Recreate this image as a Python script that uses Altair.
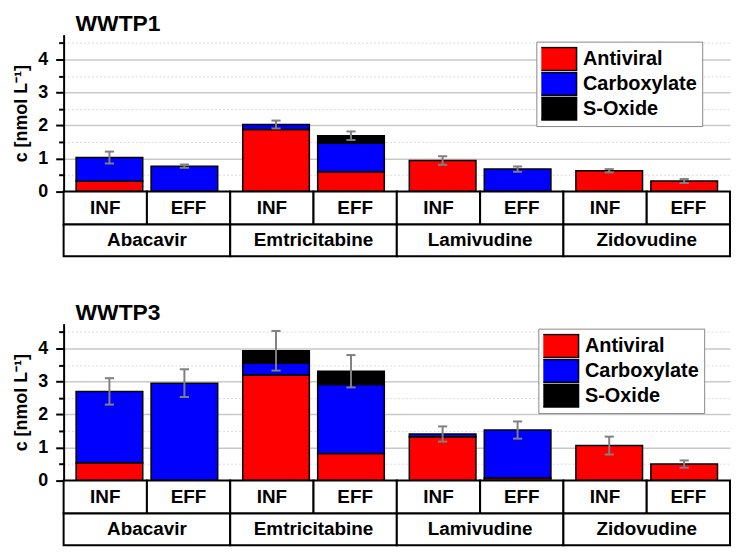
import altair as alt
import pandas as pd

FONT = "Liberation Sans"

drugs = ["Abacavir", "Emtricitabine", "Lamivudine", "Zidovudine"]
samples = ["INF", "EFF"]
components = ["Antiviral", "Carboxylate", "S-Oxide"]
colors = ["#ff0000", "#0000ff", "#000000"]

# WWTP1 (order: Abacavir INF, EFF, Emtricitabine INF, EFF, Lamivudine INF, EFF, Zidovudine INF, EFF)
w1_antiviral = [0.31, 0.00, 1.88, 0.60, 0.94, 0.00, 0.63, 0.32]
w1_carboxylate = [0.72, 0.77, 0.15, 0.87, 0.00, 0.68, 0.00, 0.00]
w1_soxide = [0.00, 0.00, 0.00, 0.22, 0.00, 0.00, 0.00, 0.00]
w1_sd = [0.18, 0.05, 0.12, 0.13, 0.13, 0.08, 0.05, 0.06]

# WWTP3
w3_antiviral = [0.54, 0.00, 3.20, 0.82, 1.33, 0.08, 1.06, 0.50]
w3_carboxylate = [2.16, 2.95, 0.35, 2.09, 0.08, 1.45, 0.00, 0.00]
w3_soxide = [0.00, 0.00, 0.38, 0.40, 0.00, 0.00, 0.00, 0.00]
w3_sd = [0.40, 0.42, 0.60, 0.49, 0.23, 0.26, 0.27, 0.11]

y_ticks = [0, 0.5, 1, 1.5, 2, 2.5, 3, 3.5, 4, 4.5]

# layout constants
Y_MAX = 4.75
ROW1 = -1.0
ROW2 = -1.955
CENTER_OFFSET = [0.55, 1.45]
BAR_HALF = 0.4
CAP_HALF = 0.055
W, H = 671, 223

major = "datum.value % 1 === 0"
yaxis = alt.Axis(
    values=y_ticks,
    format="~g",
    title="c [nmol L⁻¹]",
    titleFont=FONT, titleFontSize=18, titleFontWeight="bold", titleColor="black",
    titleX=-37, titleY=79, titleBaseline="alphabetic",
    labelExpr=f"{major} ? datum.label : ''",
    labelFont=FONT, labelFontSize=18, labelFontWeight="bold", labelColor="black",
    labelPadding=8,
    tickSize={"condition": {"test": major, "value": 8}, "value": 5},
    tickColor="black", tickWidth=2,
    domainColor="black", domainWidth=2,
    grid=True,
    gridColor={"condition": {"test": major, "value": "#c8c8c8"}, "value": "#dadada"},
    gridWidth={"condition": {"test": major, "value": 1.5}, "value": 1},
    gridDash={"condition": {"test": major, "value": [1, 0]}, "value": [2, 2]},
)


def panel(title, av, cb, so, sd, lx, ly):
    seg, err, caps = [], [], []
    for i in range(8):
        g, j = divmod(i, 2)
        c = 2 * g + CENTER_OFFSET[j]
        base = 0.0
        for comp, v in zip(components, (av[i], cb[i], so[i])):
            if v > 0:
                seg.append(dict(comp=comp, x=c - BAR_HALF, x2=c + BAR_HALF, y=base, y2=base + v))
                base += v
        lo, hi = base - sd[i], base + sd[i]
        err.append(dict(x=c, y=lo, y2=hi))
        caps.append(dict(x=c - CAP_HALF, x2=c + CAP_HALF, y=lo))
        caps.append(dict(x=c - CAP_HALF, x2=c + CAP_HALF, y=hi))
    cells = []
    for i in range(8):
        cells.append(dict(x=i, x2=i + 1, y=ROW1, y2=0, tx=i + 0.5, ty=ROW1 / 2, label=samples[i % 2]))
    for g in range(4):
        cells.append(dict(x=2 * g, x2=2 * g + 2, y=ROW2, y2=ROW1, tx=2 * g + 1, ty=(ROW1 + ROW2) / 2, label=drugs[g]))

    xs = alt.Scale(domain=[0, 8], nice=False, zero=False)
    ys = alt.Scale(domain=[ROW2, Y_MAX], nice=False, zero=False)

    bars = alt.Chart(pd.DataFrame(seg)).mark_bar(stroke="black", strokeWidth=1.5, opacity=1).encode(
        x=alt.X("x:Q", scale=xs, axis=None),
        x2="x2:Q",
        y=alt.Y("y:Q", scale=ys, axis=yaxis),
        y2="y2:Q",
        color=alt.Color(
            "comp:N",
            scale=alt.Scale(domain=components, range=colors),
            legend=alt.Legend(
                title=None, orient="none", legendX=lx, legendY=ly,
                symbolType="M-2,-1H2V1H-2Z", symbolSize=529,
                symbolStrokeColor="black", symbolStrokeWidth=1.5, symbolOpacity=1,
                labelFont=FONT, labelFontSize=20, labelFontWeight="bold", labelColor="black",
                labelOffset=17, rowPadding=0, padding=5, clipHeight=25,
                strokeColor="#888888", fillColor="white",
            ),
        ),
    )

    table = alt.Chart(pd.DataFrame(cells)).mark_rect(fill="white", stroke="black", strokeWidth=2).encode(
        x=alt.X("x:Q", scale=xs, axis=None), x2="x2:Q",
        y=alt.Y("y:Q", scale=ys, axis=yaxis), y2="y2:Q",
    )
    table_text = alt.Chart(pd.DataFrame(cells)).mark_text(
        font=FONT, fontSize=19, fontWeight="bold", color="black", baseline="middle"
    ).encode(
        x=alt.X("tx:Q", scale=xs, axis=None),
        y=alt.Y("ty:Q", scale=ys, axis=yaxis),
        text="label:N",
    )
    err_rule = alt.Chart(pd.DataFrame(err)).mark_rule(color="#808080", strokeWidth=2).encode(
        x=alt.X("x:Q", scale=xs, axis=None),
        y=alt.Y("y:Q", scale=ys, axis=yaxis), y2="y2:Q",
    )
    cap_rule = alt.Chart(pd.DataFrame(caps)).mark_rule(color="#808080", strokeWidth=2).encode(
        x=alt.X("x:Q", scale=xs, axis=None), x2="x2:Q",
        y=alt.Y("y:Q", scale=ys, axis=yaxis),
    )
    return alt.layer(bars, table, table_text, err_rule, cap_rule).properties(
        width=W, height=H,
        title=alt.TitleParams(title, anchor="start", frame="group", font=FONT, fontSize=23,
                              fontWeight="bold", color="black", dx=12, offset=-1),
    )


top = panel("WWTP1", w1_antiviral, w1_carboxylate, w1_soxide, w1_sd, 476, 7)
bottom = panel("WWTP3", w3_antiviral, w3_carboxylate, w3_soxide, w3_sd, 478, 5)

chart = alt.vconcat(top, bottom, spacing=45).resolve_scale(color="independent").resolve_legend(
    color="independent"
).properties(
    padding={"left": 5, "top": 3, "right": 0, "bottom": 0}, background="white"
).configure_view(stroke=None)

chart.save("out.html", embed_options={"renderer": "svg", "actions": False})
